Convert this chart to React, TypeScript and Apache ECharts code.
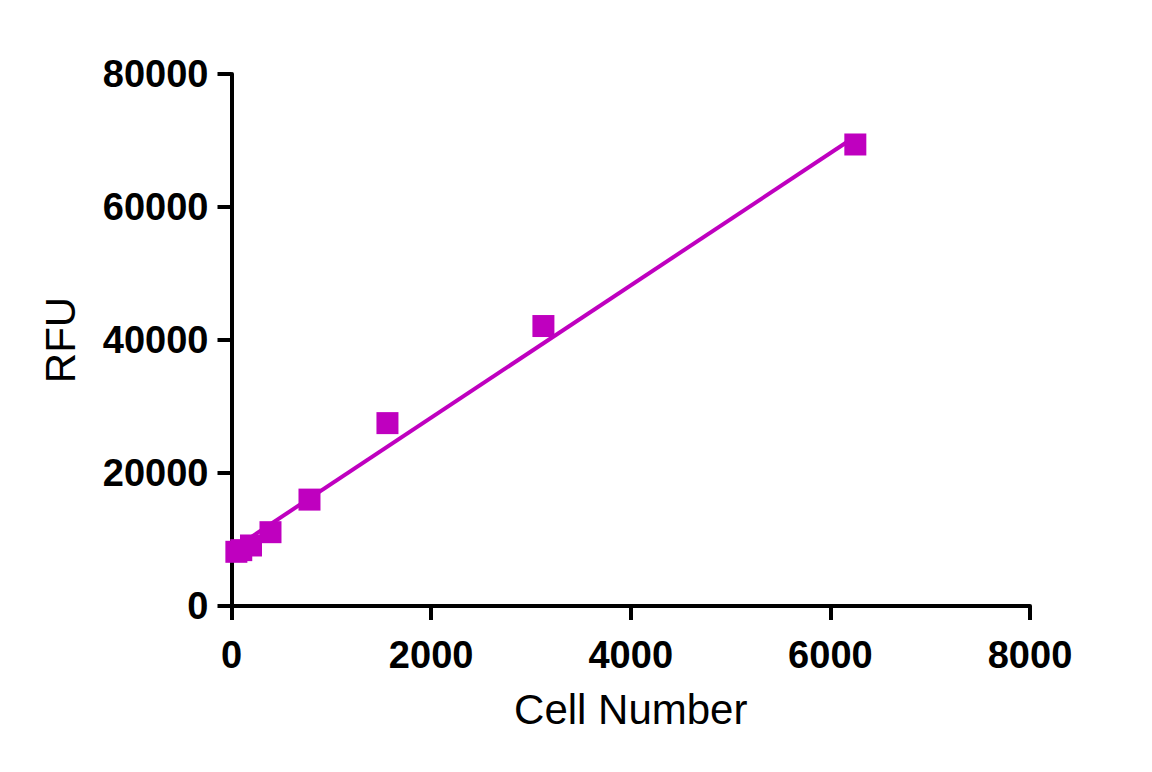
import React, { useEffect, useRef } from "react";
import * as echarts from "echarts";

const cellNumbers = [48.8, 97.7, 195.3, 390.6, 781.3, 1562.5, 3125, 6250];
const rfuValues = [8150, 8400, 9100, 11100, 16000, 27500, 42100, 69400];
const fitX = [48.8, 6250];
const fitY = [8900, 70600];
const xTicks = [0, 2000, 4000, 6000, 8000];
const yTicks = [0, 20000, 40000, 60000, 80000];

const COLOR = "#BF00BF";
const FONT = "'Liberation Sans', Arial, Helvetica, sans-serif";

export default function App() {
  const ref = useRef<HTMLDivElement>(null);
  useEffect(() => {
    if (!ref.current) return;
    const chart = echarts.init(ref.current, undefined, { renderer: "svg" });
    const axisCommon = {
      axisLine: { show: true, onZero: false, lineStyle: { color: "#000", width: 4 } },
      axisTick: { show: true, inside: false, length: 14, lineStyle: { color: "#000", width: 4 } },
      splitLine: { show: false },
    };
    const fmt = (v: number) => String(v);
    chart.setOption({
      animation: false,
      backgroundColor: "#fff",
      grid: { left: 231.5, right: 122, top: 74, bottom: 166, containLabel: false },
      xAxis: {
        type: "value",
        min: xTicks[0],
        max: xTicks[xTicks.length - 1],
        interval: xTicks[1] - xTicks[0],
        name: "Cell Number",
        nameLocation: "middle",
        nameGap: 82,
        nameTextStyle: { color: "#000", fontFamily: FONT, fontSize: 42 },
        ...axisCommon,
        axisLabel: { color: "#000", fontFamily: FONT, fontWeight: "bold", fontSize: 38, margin: 30, formatter: fmt },
      },
      yAxis: {
        type: "value",
        min: yTicks[0],
        max: yTicks[yTicks.length - 1],
        interval: yTicks[1] - yTicks[0],
        name: "RFU",
        nameLocation: "middle",
        nameGap: 150,
        nameRotate: 90,
        nameTextStyle: { color: "#000", fontFamily: FONT, fontSize: 42 },
        ...axisCommon,
        axisLabel: { color: "#000", fontFamily: FONT, fontWeight: "bold", fontSize: 38, margin: 23, formatter: fmt },
      },
      series: [
        {
          type: "line",
          data: fitX.map((x, i) => [x, fitY[i]]),
          showSymbol: false,
          symbol: "none",
          lineStyle: { color: COLOR, width: 4 },
          z: 2,
        },
        {
          type: "scatter",
          data: cellNumbers.map((x, i) => [x, rfuValues[i]]),
          symbol: "rect",
          symbolSize: 22,
          itemStyle: { color: COLOR, opacity: 1 },
          z: 3,
        },
      ],
    });
    return () => chart.dispose();
  }, []);
  return (
    <div
      ref={ref}
      style={{ position: "fixed", left: 0, top: 0, width: 1152, height: 772 }}
    />
  );
}
